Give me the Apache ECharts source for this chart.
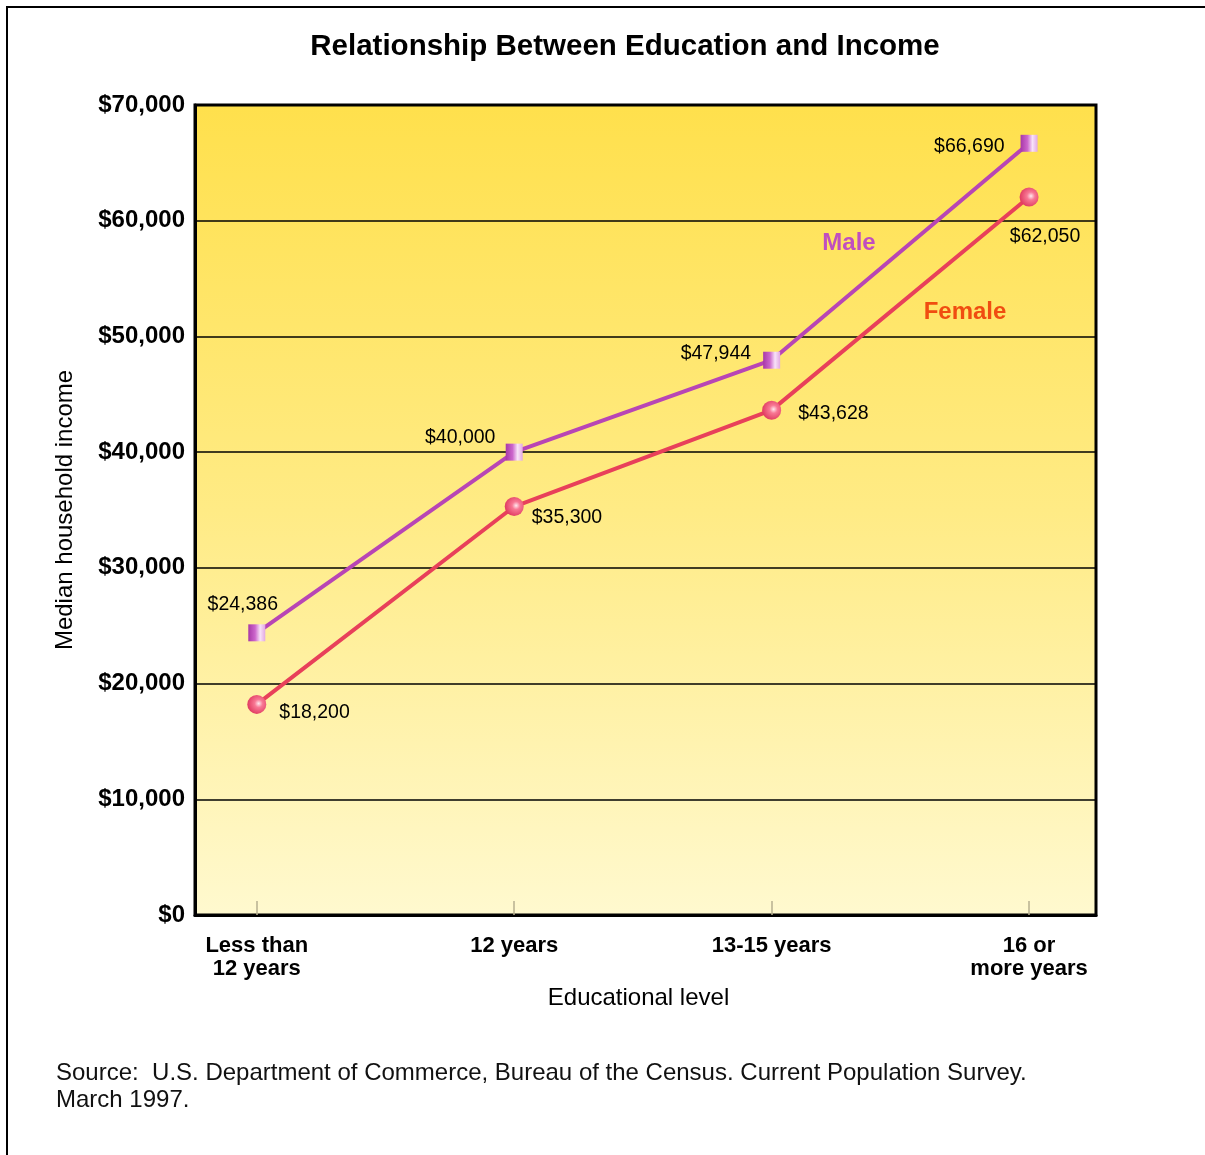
<!DOCTYPE html>
<html>
<head>
<meta charset="utf-8">
<script src="https://cdn.jsdelivr.net/npm/echarts@6/dist/echarts.min.js"></script>
<style>
  html, body { margin: 0; padding: 0; background: #fff; }
  #main { width: 1205px; height: 1155px; }
</style>
</head>
<body>
<div id="main"></div>
<script>
// data
var categories = ['Less than\n12 years', '12 years', '13-15 years', '16 or\nmore years'];
var maleIncome = [24386, 40000, 47944, 66690];
var femaleIncome = [18200, 35300, 43628, 62050];
var yTicks = [0, 10000, 20000, 30000, 40000, 50000, 60000, 70000];

// where each value label sits relative to its point
var maleLabelPos = [
  { position: 'top', offset: [-14, -5] },
  { position: 'top', offset: [-54, 9] },
  { position: 'left', offset: [-7, -7] },
  { position: 'left', offset: [-11, 3] }
];
var femaleLabelPos = [
  { position: 'right', offset: [8, 8] },
  { position: 'right', offset: [3, 11] },
  { position: 'right', offset: [12, 3] },
  { position: 'bottom', offset: [16, 15] }
];

var myChart = echarts.init(document.getElementById('main'));
window.addEventListener('resize', function() {
    myChart.resize();
});

function money(v) {
    return '$' + v.toLocaleString('en-US');
}

function buildData(values, labelPos) {
    return values.map(function(v, i) {
        return { value: [i, v], label: labelPos[i] };
    });
}

var FONT = 'Liberation Sans, Arial, sans-serif';
var labelFont = { color: '#000', fontSize: 19.5, fontFamily: FONT };

var option = {
    backgroundColor: '#fff',
    animation: false,
    title: {
        text: 'Relationship Between Education and Income',
        left: 620,
        textAlign: 'center',
        top: 27,
        textStyle: { fontSize: 29.5, fontWeight: 'bold', color: '#000', fontFamily: FONT }
    },
    grid: {
        left: 195, right: 109, top: 105, bottom: 240,
        show: true,
        borderColor: '#000',
        borderWidth: 3,
        backgroundColor: {
            type: 'linear', x: 0, y: 0, x2: 0, y2: 1,
            colorStops: [
                { offset: 0, color: '#ffe04c' },
                { offset: 0.5, color: '#ffeb85' },
                { offset: 1, color: '#fff9cf' }
            ]
        }
    },
    xAxis: {
        type: 'value',
        min: -0.24,
        max: 3.26,
        name: 'Educational level',
        nameLocation: 'middle',
        nameGap: 71,
        nameTextStyle: { fontSize: 24, color: '#000', fontFamily: FONT, padding: [0, 14, 0, 0] },
        axisLine: { show: true, onZero: false, lineStyle: { color: '#000', width: 3 } },
        axisTick: {
            show: true, inside: true, length: 14,
            customValues: [0, 1, 2, 3],
            lineStyle: { color: '#b8b090', width: 1.5 }
        },
        axisLabel: {
            customValues: [0, 1, 2, 3],
            margin: 19,
            fontSize: 22,
            lineHeight: 23,
            fontWeight: 'bold',
            color: '#000',
            fontFamily: FONT,
            formatter: function(v) { return categories[Math.round(v)]; }
        },
        splitLine: { show: false }
    },
    yAxis: {
        type: 'value',
        min: 0,
        max: 70000,
        interval: 10000,
        name: 'Median household income',
        nameLocation: 'middle',
        nameGap: 118,
        nameTextStyle: { fontSize: 24, color: '#000', fontFamily: FONT },
        axisLine: { show: true, onZero: false, lineStyle: { color: '#000', width: 3 } },
        axisTick: { show: false },
        axisLabel: {
            margin: 10,
            fontSize: 24,
            fontWeight: 'bold',
            color: '#000',
            fontFamily: FONT,
            formatter: function(v) { return yTicks.indexOf(v) >= 0 ? money(v) : ''; }
        },
        splitLine: { show: true, lineStyle: { color: '#000', width: 1.5 } }
    },
    series: [
        {
            name: 'Male',
            type: 'line',
            data: buildData(maleIncome, maleLabelPos),
            symbol: 'rect',
            symbolSize: 17,
            z: 3,
            lineStyle: { color: '#b845b5', width: 4 },
            itemStyle: {
                color: {
                    type: 'linear', x: 0, y: 0, x2: 1, y2: 0,
                    colorStops: [
                        { offset: 0, color: '#a838a8' },
                        { offset: 0.4, color: '#cc66cc' },
                        { offset: 0.7, color: '#f8e2f8' },
                        { offset: 1, color: '#e2a8e2' }
                    ]
                }
            },
            label: {
                show: true,
                formatter: function(p) { return money(p.value[1]); },
                color: labelFont.color, fontSize: labelFont.fontSize, fontFamily: labelFont.fontFamily
            }
        },
        {
            name: 'Female',
            type: 'line',
            data: buildData(femaleIncome, femaleLabelPos),
            symbol: 'circle',
            symbolSize: 19,
            z: 3,
            lineStyle: { color: '#e8405a', width: 4 },
            itemStyle: {
                color: {
                    type: 'radial', x: 0.6, y: 0.45, r: 0.6,
                    colorStops: [
                        { offset: 0, color: '#ffe8ee' },
                        { offset: 0.35, color: '#f87894' },
                        { offset: 1, color: '#e03a60' }
                    ]
                }
            },
            label: {
                show: true,
                formatter: function(p) { return money(p.value[1]); },
                color: labelFont.color, fontSize: labelFont.fontSize, fontFamily: labelFont.fontFamily
            }
        }
    ],
    graphic: [
        {
            type: 'rect',
            shape: { x: 7, y: 7, width: 1400, height: 1400 },
            style: { fill: 'none', stroke: '#000', lineWidth: 2 },
            silent: true
        },
        {
            type: 'text', x: 849, y: 243,
            style: { text: 'Male', fill: '#c04ec0', font: 'bold 24px Liberation Sans, Arial, sans-serif', textAlign: 'center', textVerticalAlign: 'middle' },
            z: 10
        },
        {
            type: 'text', x: 965, y: 312,
            style: { text: 'Female', fill: '#f04d10', font: 'bold 24px Liberation Sans, Arial, sans-serif', textAlign: 'center', textVerticalAlign: 'middle' },
            z: 10
        },
        {
            type: 'text', x: 56, y: 1060,
            style: {
                text: 'Source:  U.S. Department of Commerce, Bureau of the Census. Current Population Survey.\nMarch 1997.',
                fill: '#111', font: '24px Liberation Sans, Arial, sans-serif', lineHeight: 27
            }
        }
    ]
};

myChart.setOption(option);
</script>
</body>
</html>
